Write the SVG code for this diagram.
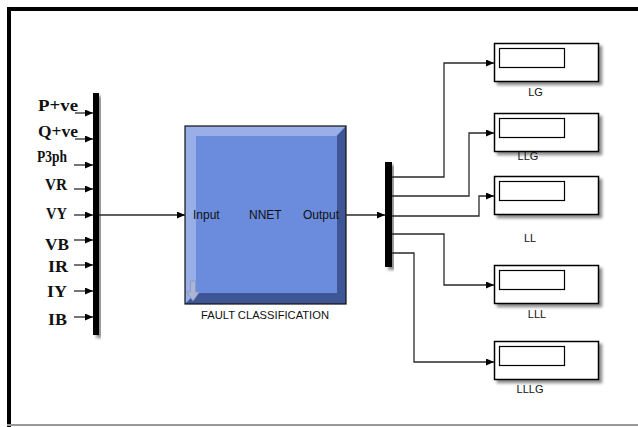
<svg xmlns="http://www.w3.org/2000/svg" width="638" height="427" viewBox="0 0 638 427">
<style>
.sig{fill:none;stroke:#2a2a2a;stroke-width:1.3}
.lbl{font-family:"Liberation Serif","Times New Roman",serif;font-weight:bold;font-size:16px;fill:#111}
.sans{font-family:"Liberation Sans",Arial,sans-serif;fill:#111}
.disp{fill:#fff;stroke:#000;stroke-width:1.5}
.win{fill:#fff;stroke:#000;stroke-width:1.2}
</style>
<defs>
<marker id="ah" markerUnits="userSpaceOnUse" markerWidth="8" markerHeight="7" refX="8" refY="3.5" orient="auto">
<path d="M0,0 L8,3.5 L0,7 z" fill="#000"/>
</marker>
<filter id="sh" x="-10%" y="-10%" width="130%" height="140%">
<feGaussianBlur in="SourceAlpha" stdDeviation="1.5"/>
<feOffset dx="2.5" dy="2.5" result="b"/>
<feComponentTransfer><feFuncA type="linear" slope="0.45"/></feComponentTransfer>
<feMerge><feMergeNode/><feMergeNode in="SourceGraphic"/></feMerge>
</filter>
</defs>
<rect width="638" height="427" fill="#fff"/>
<!-- frame -->
<rect x="7" y="7" width="631" height="4" fill="#000"/>
<rect x="7" y="7" width="4" height="420" fill="#000"/>
<rect x="7" y="424" width="631" height="2" fill="#9a9a9a"/>

<g id="input-labels">
<text class="lbl" x="38" y="111" textLength="40" lengthAdjust="spacingAndGlyphs">P+ve</text>
<text class="lbl" x="38" y="137" textLength="40" lengthAdjust="spacingAndGlyphs">Q+ve</text>
<text class="lbl" x="37" y="162" textLength="30" lengthAdjust="spacingAndGlyphs">P3ph</text>
<text class="lbl" x="45" y="190" textLength="22" lengthAdjust="spacingAndGlyphs">VR</text>
<text class="lbl" x="46" y="219" textLength="21" lengthAdjust="spacingAndGlyphs">VY</text>
<text class="lbl" x="45" y="250" textLength="24" lengthAdjust="spacingAndGlyphs">VB</text>
<text class="lbl" x="48" y="272" textLength="20" lengthAdjust="spacingAndGlyphs">IR</text>
<text class="lbl" x="47" y="297" textLength="20" lengthAdjust="spacingAndGlyphs">IY</text>
<text class="lbl" x="48" y="325" textLength="19" lengthAdjust="spacingAndGlyphs">IB</text>
</g>

<g id="mux" filter="url(#sh)">
<rect x="93" y="93" width="6" height="242" fill="#000"/>
</g>

<g id="nnet">
<rect x="185" y="126" width="161" height="178" fill="#6b8cdc"/>
<polygon points="185,126 346,126 336,136 196,136 196,293 185,304" fill="#9aaee8"/>
<polygon points="346,126 346,304 185,304 196,293 337,293 337,136" fill="#3e5596"/>
<rect x="185" y="126" width="161" height="178" fill="none" stroke="#111" stroke-width="1.2"/>
<path d="M190.5,281 h5 v11 h4 l-6.5,9 l-6.5,-9 h4 z" fill="#aab6d6" stroke="#8290b8" stroke-width="0.7"/>
<text class="sans" x="193" y="219" font-size="12">Input</text>
<text class="sans" x="249" y="219" font-size="12">NNET</text>
<text class="sans" x="303" y="219" font-size="12">Output</text>
<text class="sans" x="265" y="319" font-size="11" text-anchor="middle" textLength="128" lengthAdjust="spacingAndGlyphs">FAULT CLASSIFICATION</text>
</g>

<g id="demux" filter="url(#sh)">
<rect x="385" y="162" width="7" height="105" fill="#000"/>
</g>

<g id="LG">
<rect class="disp" x="494.5" y="43.5" width="104" height="38" filter="url(#sh)"/>
<rect class="win" x="499.5" y="48.5" width="65" height="19"/>
<text class="sans" x="535.5" y="96" font-size="11" text-anchor="middle">LG</text>
</g>
<g id="LLG">
<rect class="disp" x="494.5" y="113.5" width="104" height="38" filter="url(#sh)"/>
<rect class="win" x="499.5" y="118.5" width="65" height="19"/>
<text class="sans" x="528" y="160" font-size="11" text-anchor="middle">LLG</text>
</g>
<g id="LL">
<rect class="disp" x="494.5" y="176.5" width="104" height="38" filter="url(#sh)"/>
<rect class="win" x="499.5" y="181.5" width="65" height="19"/>
<text class="sans" x="530" y="242" font-size="11" text-anchor="middle">LL</text>
</g>
<g id="LLL">
<rect class="disp" x="494.5" y="265.5" width="104" height="38" filter="url(#sh)"/>
<rect class="win" x="499.5" y="270.5" width="65" height="19"/>
<text class="sans" x="537" y="318" font-size="11" text-anchor="middle">LLL</text>
</g>
<g id="LLLG">
<rect class="disp" x="494.5" y="341.5" width="104" height="38" filter="url(#sh)"/>
<rect class="win" x="499.5" y="346.5" width="65" height="19"/>
<text class="sans" x="530" y="393" font-size="11" text-anchor="middle">LLLG</text>
</g>

<g id="connectors">
<path class="sig" d="M75,113 H93" marker-end="url(#ah)"/>
<path class="sig" d="M75,139 H93" marker-end="url(#ah)"/>
<path class="sig" d="M74,165 H93" marker-end="url(#ah)"/>
<path class="sig" d="M74,189 H93" marker-end="url(#ah)"/>
<path class="sig" d="M74,215 H93" marker-end="url(#ah)"/>
<path class="sig" d="M74,240 H93" marker-end="url(#ah)"/>
<path class="sig" d="M74,265 H93" marker-end="url(#ah)"/>
<path class="sig" d="M74,291 H93" marker-end="url(#ah)"/>
<path class="sig" d="M74,317 H93" marker-end="url(#ah)"/>
<path class="sig" d="M99,215 H185" marker-end="url(#ah)"/>
<path class="sig" d="M346,215 H385" marker-end="url(#ah)"/>
<path class="sig" d="M392,177 H444 V63 H494" marker-end="url(#ah)"/>
<path class="sig" d="M392,196 H469 V133 H494" marker-end="url(#ah)"/>
<path class="sig" d="M392,216 H479 V196 H494" marker-end="url(#ah)"/>
<path class="sig" d="M392,234 H444 V285 H494" marker-end="url(#ah)"/>
<path class="sig" d="M392,253 H414 V362 H494" marker-end="url(#ah)"/>
</g>
</svg>
